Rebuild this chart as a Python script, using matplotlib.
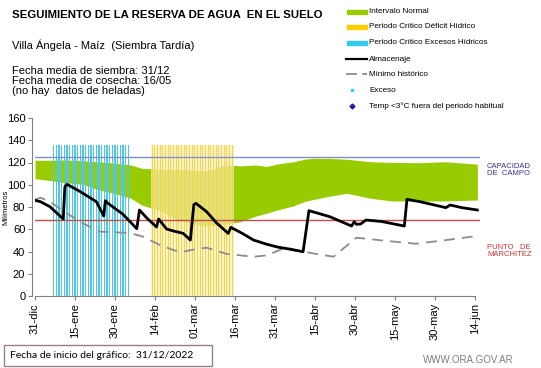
import numpy as np
import matplotlib
matplotlib.use('Agg')
import matplotlib.pyplot as plt
from matplotlib.lines import Line2D
from matplotlib.patches import Rectangle

plt.rcParams['font.family'] = ['Liberation Sans', 'DejaVu Sans']

## Data (days counted from 31-dic)
tick_days = [0, 15, 30, 45, 60, 75, 90, 105, 120, 135, 150, 165]
tick_labels = ['31-dic', '15-ene', '30-ene', '14-feb', '01-mar', '16-mar',
               '31-mar', '15-abr', '30-abr', '15-may', '30-may', '14-jun']

capacidad_campo = 125
punto_marchitez = 68

# Normal interval (green band)
band_days = [0, 5, 11, 18, 23, 30, 36, 40, 48, 52, 58, 64, 67, 70, 73, 77, 83,
             87, 91, 97, 101, 104, 110, 117, 126, 134, 144, 154, 166]
band_upper = [122, 122, 122.2, 121.6, 120.7, 119.5, 117.8, 114.8, 113.9, 113.9,
              113.3, 112.6, 114, 116.9, 117.8, 116.9, 117.8, 116.5, 118.7, 120.7,
              122.9, 123.7, 123.7, 122.9, 120.7, 120.1, 119.8, 120.7, 118.5]
band_lower = [105.5, 104, 101.9, 100.5, 95.9, 92, 87.8, 81.8, 75.8, 69.8, 65.3,
              62.9, 63, 63.8, 65.3, 66.8, 71.9, 74.5, 77.3, 81, 84.8, 86.5, 89.5,
              92.3, 87.8, 85.4, 85.4, 85.4, 86.3]

# Critical periods (daily bars)
exceso_days = np.arange(7, 36)
deficit_days = np.arange(44, 75)
periodo_top = 136

# Almacenaje (soil water storage)
alm_days = [0, 2, 5.6, 10.6, 11.2, 12, 17, 23, 25.8, 26.4, 27, 33, 38.2, 39.2,
            42, 45.6, 46.4, 49.4, 52, 55.6, 58.3, 59.6, 60.4, 64.4, 68, 72.5,
            73.5, 78, 82, 87, 91, 96, 100.6, 102.8, 106, 110.6, 118.8, 119.8,
            120.6, 122.2, 124.2, 130, 138.6, 139.6, 145, 154.2, 155.8, 160, 166]
alm_vals = [86, 84.8, 80.3, 69.2, 98, 100.4, 93.8, 84.8, 72, 85.7, 84, 73.5,
            60.5, 77.3, 70, 62, 69.2, 60.2, 58.4, 56.3, 50.3, 82, 83.3, 75.8, 66,
            56.3, 61.7, 56, 50.3, 46.5, 44, 42, 39.8, 76.7, 74.5, 71.3, 62.9, 66.8,
            64.5, 64.7, 68.3, 67, 62.9, 86.9, 84.5, 79.4, 81.8, 79.5, 77.3]

# Minimo historico
min_days = [0, 2, 5.6, 12, 18, 24.4, 30.6, 35.6, 40.6, 46.9, 54.4, 60, 64.4,
            71.9, 82, 87, 93, 100.6, 112, 120.6, 132, 143, 154.4, 166]
min_vals = [86.5, 88.4, 84.8, 74.3, 65.3, 57.8, 57.2, 56.6, 53.3, 45.8, 39.2, 42,
            43.4, 37.8, 35.3, 36.5, 42.5, 39.8, 35.3, 52.4, 49.5, 47.0, 50.3, 54.0]

W, H = 541, 368
fig = plt.figure(figsize=(W / 100, H / 100), dpi=100)

# main axes: day 0 at x=35px, 160 at y=118px, 0 at y=296px
ax = fig.add_axes([35 / W, (H - 296) / H, 445 / W, 178 / H])
ax.set_xlim(0, 167)
ax.set_ylim(0, 160)

ax.fill_between(band_days, band_lower, band_upper, color='#99CC00',
                linewidth=0, zorder=1)
ax.bar(exceso_days, periodo_top, width=0.55, color='#4DC8E8', linewidth=0, zorder=2)
ax.bar(deficit_days, periodo_top, width=1.0, color='#FCF0B8', linewidth=0,
       alpha=0.7, zorder=2)
ax.bar(deficit_days, periodo_top, width=0.4, color='#F3D448', linewidth=0, zorder=2)
ax.axhline(capacidad_campo, color='#7F8FC0', linewidth=1.0, zorder=3)
ax.axhline(punto_marchitez, color='#C0504D', linewidth=1.0, zorder=3)
ax.plot(min_days, min_vals, color='#8C8C8C', linewidth=1.3, dashes=(6, 4), zorder=4)
ax.plot(alm_days, alm_vals, color='black', linewidth=2.0, zorder=5)

for s in ['top', 'right']:
    ax.spines[s].set_visible(False)
ax.spines['left'].set_color('#808080')
ax.spines['bottom'].set_color('#808080')
ax.spines['bottom'].set_bounds(0, 165)
ax.spines['left'].set_position(('outward', 2))
ax.set_yticks(np.arange(0, 161, 20))
ax.set_xticks(tick_days)
ax.set_xticklabels(tick_labels, rotation=90)
ax.tick_params(axis='both', labelsize=8, color='#808080', length=3, width=0.8,
               pad=2)
ax.set_ylabel('Milímetros', fontsize=5.5)
ax.yaxis.set_label_coords(-0.058, 0.5)

# overlay in pixel coordinates for texts and legend
ov = fig.add_axes([0, 0, 1, 1])
ov.set_xlim(0, W)
ov.set_ylim(H, 0)
ov.set_axis_off()

ov.text(12, 15.5, 'SEGUIMIENTO DE LA RESERVA DE AGUA  EN EL SUELO', fontsize=8.2,
        fontweight='bold', va='center')
ov.text(12, 45.5, 'Villa Ángela - Maíz  (Siembra Tardía)', fontsize=8, va='center')
ov.text(12, 70.5, 'Fecha media de siembra: 31/12', fontsize=8, va='center')
ov.text(12, 80.5, 'Fecha media de cosecha: 16/05', fontsize=8, va='center')
ov.text(12, 90.5, '(no hay  datos de heladas)', fontsize=8, va='center')

leg_y = [11.7, 26.7, 42.7, 59.3, 74, 90, 106]
ov.add_patch(Rectangle((347, leg_y[0] - 2), 20, 4, color='#99CC00'))
ov.add_patch(Rectangle((347, leg_y[1] - 2), 20, 4, color='#FFCC00'))
ov.add_patch(Rectangle((347, leg_y[2] - 2), 20, 4, color='#33CCEE'))
ov.add_line(Line2D([346, 367], [leg_y[3], leg_y[3]], color='black', linewidth=1.6))
ov.add_line(Line2D([346, 367], [leg_y[4], leg_y[4]], color='#8C8C8C',
                   linewidth=1.3, dashes=(6, 3)))
ov.plot([352], [leg_y[5]], 's', color='#33CCEE', markersize=2)
ov.plot([352], [leg_y[6]], 'D', color='#1F1FA0', markersize=2.5)
leg_txt = ['Intervalo Normal', 'Periodo Crítico Déficit Hídrico',
           'Periodo Crítico Excesos Hídricos', 'Almacenaje', 'Mínimo histórico',
           'Exceso', 'Temp <3°C fuera del periodo habitual']
for i, t in enumerate(leg_txt):
    ov.text(369, leg_y[i], t, fontsize=5.9, va='center')

ov.text(487, 170, 'CAPACIDAD\nDE  CAMPO', fontsize=5.5, color='#333399',
        va='center', linespacing=1.1)
ov.text(487, 251, 'PUNTO   DE\nMARCHITEZ', fontsize=5.5, color='#CC3333',
        va='center', linespacing=1.1)

ov.add_patch(Rectangle((4, 345), 208, 21, fill=False, edgecolor='#9A8080',
                       linewidth=1.0))
ov.text(10, 356, 'Fecha de inicio del gráfico:  31/12/2022', fontsize=7.5,
        va='center', family=['Lato', 'DejaVu Sans'])
ov.text(514, 360, 'WWW.ORA.GOV.AR', fontsize=7, color='#7F7F7F', ha='right',
        va='center')

fig.savefig('out.png', dpi=100)
